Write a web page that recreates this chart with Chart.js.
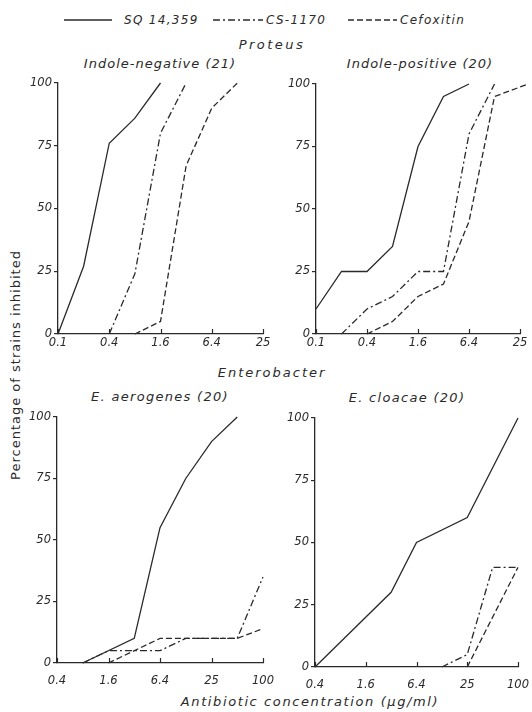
<!DOCTYPE html>
<html>
<head>
<meta charset="utf-8">
<script src="https://cdn.jsdelivr.net/npm/chart.js@4.4.0/dist/chart.umd.min.js"></script>
<style>
  body { margin: 0; background: #fff; width: 532px; height: 712px; position: relative; overflow: hidden;
         font-family: "DejaVu Sans", sans-serif; font-style: italic; color: #2a2a2a; }
  .t { position: absolute; white-space: nowrap; transform: translate(-50%, -50%); font-size: 13px; letter-spacing: 1.5px; }
  .l { position: absolute; white-space: nowrap; transform: translateY(-50%); font-size: 12px; letter-spacing: 1.3px; }
  canvas { position: absolute; }
  svg { position: absolute; left: 0; top: 0; }
</style>
</head>
<body>

<svg width="532" height="40">
  <line x1="64" y1="20" x2="112" y2="20" stroke="#2a2a2a" stroke-width="1.3"/>
  <line x1="213" y1="20" x2="263" y2="20" stroke="#2a2a2a" stroke-width="1.3" stroke-dasharray="7,3,2,3"/>
  <line x1="348" y1="20" x2="397" y2="20" stroke="#2a2a2a" stroke-width="1.3" stroke-dasharray="6,3"/>
</svg>
<div class="l" style="left:124px;top:20px">SQ 14,359</div>
<div class="l" style="left:266px;top:20px">CS-1170</div>
<div class="l" style="left:400px;top:20px">Cefoxitin</div>

<div class="t" style="left:272px;top:44px;letter-spacing:2.5px">Proteus</div>
<div class="t" style="left:160px;top:63px;letter-spacing:1px">Indole-negative (21)</div>
<div class="t" style="left:420px;top:63px;letter-spacing:1px">Indole-positive (20)</div>
<div class="t" style="left:272px;top:372px;letter-spacing:2px">Enterobacter</div>
<div class="t" style="left:160px;top:396px;letter-spacing:1.3px">E. aerogenes (20)</div>
<div class="t" style="left:407px;top:397px;letter-spacing:1.3px">E. cloacae (20)</div>
<div class="t" style="left:310px;top:701px;letter-spacing:1.6px">Antibiotic concentration (μg/ml)</div>
<div class="t" style="left:15px;top:365px;font-style:normal;letter-spacing:1px;transform:translate(-50%,-50%) rotate(-90deg)">Percentage of strains inhibited</div>

<canvas id="tl" width="255" height="285" style="left:20px;top:75px"></canvas>
<canvas id="tr" width="254" height="284" style="left:278px;top:76px"></canvas>
<canvas id="bl" width="256" height="280" style="left:19px;top:409px"></canvas>
<canvas id="br" width="253" height="283" style="left:277px;top:410px"></canvas>

<script>
// axis ticks (two-fold dilution series, labelled every fourfold step)
const proteusTicks = [0.1, 0.4, 1.6, 6.4, 25.6];
const proteusLabels = ["0.1", "0.4", "1.6", "6.4", "25"];
const enteroTicks = [0.4, 1.6, 6.4, 25.6, 102.4];
const enteroLabels = ["0.4", "1.6", "6.4", "25", "100"];
const yTicks = [0, 25, 50, 75, 100];

// Proteus, indole-negative (21)
const negSqConc = [0.1, 0.2, 0.4, 0.8, 1.6];
const negSqPct = [0, 27, 76, 86, 100];
const negCsConc = [0.4, 0.8, 1.6, 3.2];
const negCsPct = [0, 24, 80, 100];
const negCefConc = [0.8, 1.6, 3.2, 6.4, 12.8];
const negCefPct = [0, 5, 67, 90, 100];

// Proteus, indole-positive (20)
const posSqConc = [0.1, 0.2, 0.4, 0.8, 1.6, 3.2, 6.4];
const posSqPct = [10, 25, 25, 35, 75, 95, 100];
const posCsConc = [0.2, 0.4, 0.8, 1.6, 3.2, 6.4, 12.8];
const posCsPct = [0, 10, 15, 25, 25, 80, 100];
const posCefConc = [0.4, 0.8, 1.6, 3.2, 6.4, 12.8, 32];
const posCefPct = [0, 5, 15, 20, 45, 95, 100];

// Enterobacter aerogenes (20)
const aerSqConc = [0.8, 3.2, 6.4, 12.8, 25.6, 51.2];
const aerSqPct = [0, 10, 55, 75, 90, 100];
const aerCsConc = [0.8, 1.6, 6.4, 12.8, 51.2, 102.4];
const aerCsPct = [0, 5, 5, 10, 10, 35];
const aerCefConc = [1.6, 6.4, 51.2, 102.4];
const aerCefPct = [0, 10, 10, 14];

// Enterobacter cloacae (20)
const cloSqConc = [0.4, 3.2, 6.4, 25.6, 102.4];
const cloSqPct = [0, 30, 50, 60, 100];
const cloCsConc = [12.8, 25.6, 51.2, 102.4];
const cloCsPct = [0, 5, 40, 40];
const cloCefConc = [25.6, 102.4];
const cloCefPct = [0, 40];

const ink = "#2a2a2a";
const tickFont = { family: "DejaVu Sans", style: "italic", size: 11.5 };

// small tick marks pointing up into the plot, like the original figure
const innerTicks = {
  id: "innerTicks",
  afterDraw(chart) {
    const ctx = chart.ctx, x = chart.scales.x, y = chart.scales.y;
    ctx.save();
    ctx.strokeStyle = ink;
    ctx.lineWidth = 1.2;
    x.ticks.forEach(t => {
      const px = Math.round(x.getPixelForValue(t.value)) + 0.5;
      ctx.beginPath();
      ctx.moveTo(px, y.bottom);
      ctx.lineTo(px, y.bottom - 5);
      ctx.stroke();
    });
    ctx.restore();
  }
};

function pts(xs, ys) {
  return xs.map((v, i) => ({ x: v, y: ys[i] }));
}

function makeChart(id, ticks, labels, sq, cs, cef, labelPad) {
  const line = (name, data, dash) => ({
    label: name,
    data: data,
    borderColor: ink,
    borderWidth: 1.3,
    borderDash: dash,
    pointRadius: 0,
    tension: 0,
    fill: false,
    clip: false,
  });
  new Chart(document.getElementById(id).getContext("2d"), {
    type: "line",
    data: {
      datasets: [
        line("SQ 14,359", sq, []),
        line("CS-1170", cs, [7, 3, 2, 3]),
        line("Cefoxitin", cef, [6, 3]),
      ],
    },
    options: {
      responsive: false,
      animation: false,
      layout: { padding: { top: 8, right: 12, left: 0, bottom: 0 } },
      plugins: { legend: { display: false }, tooltip: { enabled: false } },
      scales: {
        x: {
          type: "logarithmic",
          min: ticks[0],
          max: ticks[ticks.length - 1],
          afterBuildTicks: s => { s.ticks = ticks.map(v => ({ value: v })); },
          afterFit: s => { s.height = 26; s.paddingLeft = 0; s.paddingRight = 0; },
          border: { display: true, color: ink, width: 1.3 },
          grid: { drawOnChartArea: false, drawTicks: false },
          ticks: {
            autoSkip: false,
            maxRotation: 0,
            padding: labelPad,
            color: ink,
            font: tickFont,
            callback: (v, i) => labels[i],
          },
        },
        y: {
          min: 0,
          max: 100,
          afterBuildTicks: s => { s.ticks = yTicks.map(v => ({ value: v })); },
          afterFit: s => { s.width = 38; s.paddingTop = 0; s.paddingBottom = 0; },
          border: { display: true, color: ink, width: 1.3 },
          grid: { drawOnChartArea: false, tickLength: 4, color: ink, lineWidth: 1.2 },
          ticks: { padding: 2, color: ink, font: tickFont },
        },
      },
    },
    plugins: [innerTicks],
  });
}

makeChart("tl", proteusTicks, proteusLabels,
  pts(negSqConc, negSqPct), pts(negCsConc, negCsPct), pts(negCefConc, negCefPct), 2);
makeChart("tr", proteusTicks, proteusLabels,
  pts(posSqConc, posSqPct), pts(posCsConc, posCsPct), pts(posCefConc, posCefPct), 2);
makeChart("bl", enteroTicks, enteroLabels,
  pts(aerSqConc, aerSqPct), pts(aerCsConc, aerCsPct), pts(aerCefConc, aerCefPct), 11);
makeChart("br", enteroTicks, enteroLabels,
  pts(cloSqConc, cloSqPct), pts(cloCsConc, cloCsPct), pts(cloCefConc, cloCefPct), 11);
</script>
</body>
</html>
